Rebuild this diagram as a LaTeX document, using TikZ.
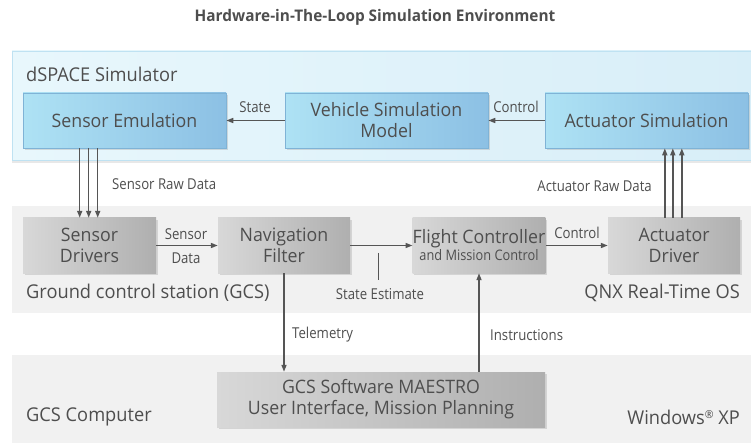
\documentclass[tikz,border=0pt]{standalone}
\usepackage{fontspec}
\setmainfont[FakeStretch=0.96]{Open Sans}
\newfontfamily\condf[FakeStretch=0.88]{Open Sans}
\usetikzlibrary{shadows,arrows.meta,calc}
\definecolor{txt}{HTML}{4E4E4E}
\definecolor{arr}{HTML}{555555}
\definecolor{bpL}{HTML}{E8F7FC}
\definecolor{bpR}{HTML}{D8EEF8}
\definecolor{bpB}{HTML}{BFE2F2}
\definecolor{bbL}{HTML}{AEE2F4}
\definecolor{bbM}{HTML}{C2EEFA}
\definecolor{bbR}{HTML}{8CC0E4}
\definecolor{bbD}{HTML}{7FB3D6}
\definecolor{gbL}{HTML}{D8D8D8}
\definecolor{gbM}{HTML}{CFCFCF}
\definecolor{gbR}{HTML}{AFAFAF}
\definecolor{gp}{HTML}{F1F1F1}
\tikzset{
  panelblue/.style={draw=bpB, line width=0.5pt, left color=bpL, right color=bpR,
    drop shadow={opacity=0.18, shadow xshift=0pt, shadow yshift=-3pt}},
  panelgray/.style={draw=none, fill=gp,
    drop shadow={opacity=0.10, shadow xshift=0pt, shadow yshift=-3pt}},
  bluebox/.style={draw=bbD, line width=0.6pt, left color=bbL, middle color=bbM, right color=bbR,
    minimum height=55pt, text=txt, align=center, inner sep=0pt,
    font=\fontsize{18.5}{21}\selectfont,
    drop shadow={opacity=0.25, shadow xshift=1.5pt, shadow yshift=-2pt}},
  graybox/.style={draw=none, left color=gbL, middle color=gbM, right color=gbR,
    minimum height=55pt, minimum width=132pt, text=txt, align=center, inner sep=0pt,
    font=\fontsize{18.5}{21}\selectfont,
    drop shadow={opacity=0.25, shadow xshift=1.5pt, shadow yshift=-2pt}},
  plabel/.style={text=txt, inner sep=0pt, font=\fontsize{19}{22}\selectfont},
  slabel/.style={text=txt, inner sep=0pt, font=\condf\fontsize{15}{18}\selectfont},
  arrow/.style={draw=arr, line width=1.5pt, -{Triangle[length=7pt,width=5pt]}},
  plain/.style={draw=arr, line width=1pt},
}
\begin{document}
\begin{tikzpicture}[x=1pt,y=-1pt]
\useasboundingbox (0,0) rectangle (751,443);
% title
\node[text=txt, font=\bfseries\fontsize{16}{19}\selectfont, inner sep=0pt] (title) at (375,17) {Hardware-in-The-Loop Simulation Environment};
% panels
\path[panelblue] (12,51) rectangle (760,160);
\path[panelgray] (12,206) rectangle (760,310);
\path[panelgray] (12,355) rectangle (760,440);
\node[plabel, anchor=west] (dsl) at (26,74) {dSPACE Simulator};
\node[plabel, anchor=west] (gcsl) at (26,293) {Ground control station (GCS)};
\node[plabel, anchor=east] (qnx) at (740,293) {QNX Real-Time OS};
\node[plabel, anchor=west] (gcc) at (26,417) {GCS Computer};
\node[plabel, anchor=east] (win) at (740,417) {Windows{\fontsize{11}{11}\selectfont\raisebox{6pt}{®}} XP};
% blue boxes
\node[bluebox, minimum width=203pt] (se) at (124.5,120.5) {Sensor Emulation};
\node[bluebox, minimum width=203pt] (vsm) at (386.5,120.5) {Vehicle Simulation\\Model};
\node[bluebox, minimum width=203pt] (as) at (646.5,120.5) {Actuator Simulation};
% gray boxes
\node[graybox, minimum width=133pt] (sd) at (89.5,245.5) {Sensor\\Drivers};
\node[graybox] (nf) at (284,245.5) {Navigation\\Filter};
\node[graybox] (fc) at (479,245.5) {Flight Controller\\[-4pt]{\condf\fontsize{14.5}{17}\selectfont and Mission Control}};
\node[graybox] (ad) at (674,245.5) {Actuator\\Driver};
\node[graybox, minimum width=328pt] (gs) at (381,399.5) {GCS Software MAESTRO\\User Interface, Mission Planning};
% top arrows
\draw[arrow] (vsm.west) -- (se.east);
\node[slabel] (lstate) at (255,107) {State};
\draw[arrow] (as.west) -- (vsm.east);
\node[slabel] (lctrl) at (516,107) {Control};
% sensor raw data triple
\foreach \d/\n in {57/1,66/2,75/3}{
  \coordinate (s\n) at ($(se.south west)+(\d,0)$);
  \draw[arrow] (s\n) -- (s\n |- sd.north);
}
\node[slabel, anchor=west] (lsrd) at (112,184) {Sensor Raw Data};
% actuator raw data triple
\foreach \d/\n in {57/1,65/2,74/3}{
  \coordinate (a\n) at ($(ad.north west)+(\d,0)$);
  \draw[arrow] (a\n) -- (a\n |- as.south);
}
\node[slabel, anchor=east] (lard) at (652,186) {Actuator Raw Data};
% middle arrows
\draw[arrow] (sd.east) -- (nf.west);
\node[slabel] (lsens) at (186,234) {Sensor};
\node[slabel] (ldata) at (186,258) {Data};
\draw[arrow] (nf.east) -- (fc.west);
\coordinate (t1) at (378,253);
\coordinate (t2) at (378,280);
\draw[plain] (t1) -- (t2);
\node[slabel] (lse) at (380,294) {State Estimate};
\draw[arrow] (fc.east) -- (ad.west);
\node[slabel] (lctrl2) at (577,233) {Control};
% vertical arrows
\draw[arrow] (nf.south) -- (nf.south |- gs.north);
\node[slabel, anchor=west] (ltel) at (292,335) {Telemetry};
\draw[arrow] (fc.south |- gs.north) -- (fc.south);
\node[slabel, anchor=west] (lins) at (490,335) {Instructions};
\end{tikzpicture}
\end{document}
